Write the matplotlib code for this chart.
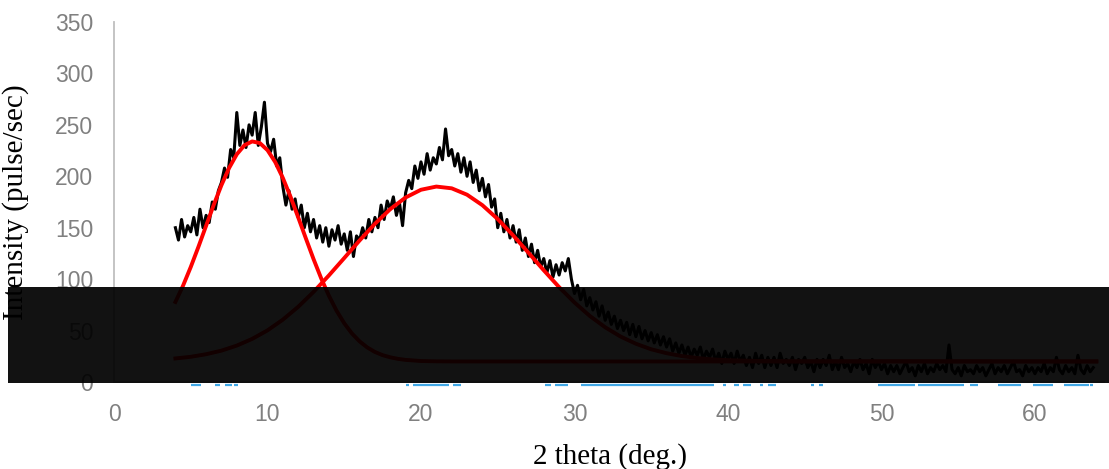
import numpy as np
import matplotlib.pyplot as plt
from matplotlib.patches import Rectangle

# measured XRD pattern, 2theta = 4.0 .. 63.8 in 0.2 deg steps
two_theta = np.round(np.arange(4.0, 63.9, 0.2), 1)
intensity = [
    150, 138, 158, 141, 152,   # 4
    146, 160, 143, 168, 150,   # 5
    162, 155, 175, 168, 186,   # 6
    194, 208, 199, 226, 218,   # 7
    262, 230, 245, 228, 250,   # 8
    240, 262, 230, 248, 272,   # 9
    232, 224, 236, 210, 218,   # 10
    190, 172, 186, 168, 178,   # 11
    160, 172, 150, 164, 146,   # 12
    158, 140, 152, 136, 150,   # 13
    132, 148, 138, 152, 134,   # 14
    144, 128, 146, 122, 142,   # 15
    138, 150, 140, 158, 146,   # 16
    160, 150, 172, 158, 176,   # 17
    168, 180, 162, 174, 152,   # 18
    184, 196, 188, 210, 198,   # 19
    214, 202, 222, 206, 218,   # 20
    212, 228, 216, 246, 220,   # 21
    226, 210, 222, 204, 218,   # 22
    200, 214, 194, 206, 186,   # 23
    198, 180, 192, 170, 178,   # 24
    150, 164, 146, 158, 140,   # 25
    152, 136, 148, 128, 140,   # 26
    122, 134, 116, 128, 112,   # 27
    120, 106, 118, 102, 114,   # 28
    104, 116, 108, 120, 100,   # 29
    86, 94, 80, 90, 74,        # 30
    82, 70, 78, 64, 74,        # 31
    60, 68, 56, 64, 52,        # 32
    60, 50, 58, 46, 56,        # 33
    44, 54, 42, 50, 40,        # 34
    48, 38, 46, 36, 44,        # 35
    34, 42, 30, 38, 28,        # 36
    36, 26, 34, 24, 32,        # 37
    26, 34, 22, 30, 24,        # 38
    32, 20, 28, 18, 30,        # 39
    22, 28, 18, 30, 20,        # 40
    26, 16, 24, 14, 28,        # 41
    18, 26, 14, 24, 16,        # 42
    24, 14, 28, 18, 22,        # 43
    16, 24, 12, 22, 18,        # 44
    24, 14, 20, 10, 22,        # 45
    14, 22, 16, 26, 12,        # 46
    20, 12, 24, 14, 18,        # 47
    10, 20, 14, 22, 12,        # 48
    18, 8, 22, 14, 20,         # 49
    12, 18, 8, 16, 10,         # 50
    16, 8, 14, 20, 10,         # 51
    14, 6, 16, 10, 18,         # 52
    8, 14, 10, 18, 12,         # 53
    16, 10, 36, 12, 8,         # 54
    14, 6, 16, 10, 12,         # 55
    8, 16, 10, 14, 6,          # 56
    12, 18, 8, 14, 10,         # 57
    16, 8, 14, 20, 10,         # 58
    12, 6, 16, 10, 14,         # 59
    8, 14, 10, 18, 8,          # 60
    14, 10, 24, 12, 8,         # 61
    16, 10, 14, 8, 26,         # 62
    12, 8, 16, 10, 14,         # 63
]

# fitted peak 1 (red)
fit1_x = [4.0, 4.5, 5.0, 5.5, 6.0, 6.5, 7.0, 7.5, 8.0, 8.5, 9.0, 9.5, 10.0,
          10.5, 11.0, 11.5, 12.0, 12.5, 13.0, 13.5, 14.0, 14.5, 15.0, 15.5,
          16.0, 16.5, 17.0, 17.5, 18.0, 18.5, 19.0, 20.0, 21.0, 22.0, 64.0]
fit1_y = [77.8, 93.7, 111.8, 131.4, 151.9, 172.3, 191.4, 208.1, 221.4, 230.2,
          233.9, 232.3, 225.4, 213.9, 198.4, 180.1, 160.1, 139.6, 119.5, 100.7,
          83.9, 69.3, 57.1, 47.2, 39.5, 33.6, 29.2, 26.1, 24.0, 22.5, 21.5,
          20.4, 20.1, 20.0, 20.0]

# fitted peak 2 (red)
fit2_x = [4, 5, 6, 7, 8, 9, 10, 11, 12, 13, 14, 15, 16, 17, 18, 19, 20, 21,
          22, 23, 24, 25, 26, 27, 28, 29, 30, 31, 32, 33, 34, 35, 36, 37, 38,
          39, 40, 42, 44, 64]
fit2_y = [22.9, 24.5, 27.0, 30.5, 35.4, 41.9, 50.2, 60.6, 73.1, 87.6, 103.6,
          120.5, 137.6, 153.8, 168.1, 179.4, 186.9, 190.0, 188.3, 182.1, 171.9,
          158.4, 142.6, 125.7, 108.6, 92.2, 77.3, 64.2, 53.2, 44.2, 37.2, 31.8,
          28.0, 25.2, 23.3, 22.0, 21.2, 20.4, 20.1, 20.0]

# blue trace, only its lowest parts show below the dark box
blue_start = [5.0, 6.6, 7.2, 7.8, 19.0, 19.5, 22.1, 28.1, 28.7, 30.4, 39.7,
              40.4, 41.0, 42.1, 42.6, 45.4, 45.9, 49.8, 52.4, 55.8, 57.6,
              59.9, 61.9, 63.6]
blue_end = [5.7, 6.9, 7.7, 8.1, 19.2, 21.8, 22.6, 28.5, 29.6, 39.1, 39.9,
            40.7, 41.5, 42.3, 43.1, 45.6, 46.2, 52.2, 55.4, 56.3, 59.1,
            61.2, 63.5, 63.8]
blue_level = -2.5

fig = plt.figure(figsize=(11.09, 4.69), dpi=100)
ax = fig.add_axes([0.1028, 0.1855, 0.8927, 0.7676])

ax.hlines([blue_level] * len(blue_start), blue_start, blue_end,
          color='#41a8e6', lw=1.6, zorder=1, clip_on=False)
ax.plot(two_theta, intensity, color='black', lw=2.2, zorder=2)
ax.plot(fit1_x, fit1_y, color='#ff0000', lw=2.8, zorder=3)
ax.plot(fit2_x, fit2_y, color='#ff0000', lw=2.8, zorder=3)

ax.set_xlim(0, 64.5)
ax.set_ylim(0, 350)
ax.set_xticks(range(0, 61, 10))
ax.set_yticks(range(0, 351, 50))
for s in ['top', 'right']:
    ax.spines[s].set_visible(False)
for s in ['left', 'bottom']:
    ax.spines[s].set_color('#bfbfbf')
    ax.spines[s].set_linewidth(1.3)
ax.spines['bottom'].set_zorder(0)
ax.tick_params(length=0, labelsize=16.5, labelcolor='#808080')
ax.tick_params(axis='y', pad=15)
ax.tick_params(axis='x', pad=15)
for lbl in ax.get_xticklabels() + ax.get_yticklabels():
    lbl.set_fontfamily('Liberation Sans')
ax.patch.set_alpha(0)

ax.set_ylabel('Intensity (pulse/sec)', fontsize=21, family='Liberation Serif')
ax.yaxis.set_label_coords(-0.0855, 0.5)
fig.text(0.550, 0.026, '2 theta (deg.)', ha='center', va='center',
         fontsize=21, family='Liberation Serif')

# dark box laid over the lower band of the chart, on its own top layer
cover = fig.add_axes([0, 0, 1, 1], zorder=10)
cover.axis('off')
cover.set_xlim(0, 1)
cover.set_ylim(0, 1)
cover.add_patch(Rectangle((0.0072, 1 - 383 / 469), 1.0, 96 / 469,
                          facecolor='black', edgecolor='none', alpha=0.93))

fig.savefig('out.png', dpi=100)
